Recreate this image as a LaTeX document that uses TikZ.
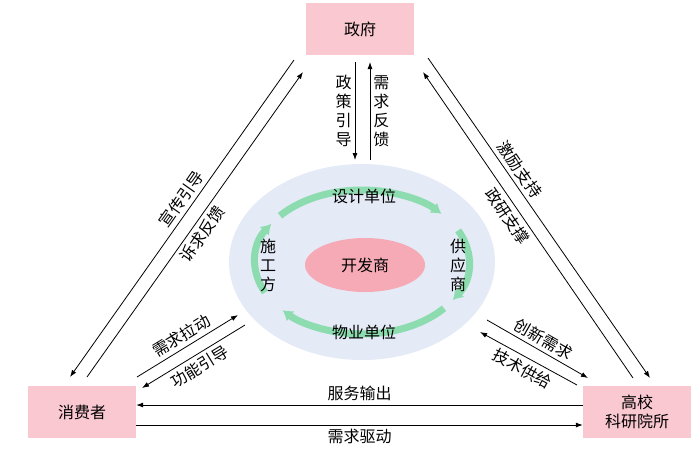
\documentclass[tikz,border=0pt]{standalone}
\usepackage{fontspec}
\setmainfont{Noto Sans CJK SC}
\usetikzlibrary{arrows.meta,shapes.geometric}
\definecolor{boxpink}{RGB}{250,200,208}
\definecolor{corepink}{RGB}{246,170,182}
\definecolor{ringblue}{RGB}{228,234,246}
\definecolor{ringgreen}{RGB}{140,220,175}
\begin{document}
\begin{tikzpicture}
[x=1pt, y=-1pt, font=\fontsize{16}{19}\selectfont,
 actornode/.style={rectangle, fill=boxpink, minimum width=108pt, minimum height=52pt, align=center},
 flowarrow/.style={-{Latex[length=7pt,width=5pt]}, thick},
 cyclearrow/.style={-{Latex[length=10pt,width=13pt]}, line width=7pt, draw=ringgreen},
 linetext/.style={sloped, inner sep=4pt},
 vtext/.style={align=center, inner sep=1pt}]
\useasboundingbox (0,0) rectangle (700,451);
\node[actornode] (gov) at (360,29) {政府};
\node[actornode] (consumer) at (82,412) {消费者};
\node[actornode] (college) at (637,412) {高校\\科研院所};
\fill[ringblue] (362,262) ellipse [x radius=133pt, y radius=98pt];
\node[ellipse, fill=corepink, minimum width=120pt, minimum height=54pt] (dev) at (365,265) {开发商};
% cycle around the developer
\draw[cyclearrow] (362,262) ++(140:107pt and 72pt) arc [start angle=140, end angle=42, x radius=107pt, y radius=72pt];
\draw[cyclearrow] (362,262) ++(26:107pt and 72pt) arc [start angle=26, end angle=-32, x radius=107pt, y radius=72pt];
\draw[cyclearrow] (362,262) ++(-40:107pt and 72pt) arc [start angle=-40, end angle=-138, x radius=107pt, y radius=72pt];
\draw[cyclearrow] (362,262) ++(205:107pt and 72pt) arc [start angle=205, end angle=148, x radius=107pt, y radius=72pt];
\node (design) at (364,196) {设计单位};
\node (property) at (364,332) {物业单位};
\node[vtext] (builder) at (268,265) {施\\工\\方};
\node[vtext] (supplier) at (458,265) {供\\应\\商};
% government and consumer
\coordinate (g1) at (294,60); \coordinate (c1) at (70,377);
\coordinate (c2) at (87,377); \coordinate (g2) at (303,72);
\draw[flowarrow] (g1) -- node[linetext, above, pos=0.46] {宣传引导} (c1);
\draw[flowarrow] (c2) -- node[linetext, below, pos=0.49] {诉求反馈} (g2);
% government and college
\coordinate (g3) at (428,58); \coordinate (k1) at (650,378);
\coordinate (k2) at (633,378); \coordinate (g4) at (423,72);
\draw[flowarrow] (g3) -- node[linetext, above, pos=0.37] {激励支持} (k1);
\draw[flowarrow] (k2) -- node[linetext, below, pos=0.55] {政研支撑} (g4);
% government and developer
\coordinate (g5) at (355,62); \coordinate (d1) at (355,160);
\coordinate (d2) at (370,160); \coordinate (g6) at (370,62);
\draw[flowarrow] (g5) -- node[vtext, left=2pt] {政\\策\\引\\导} (d1);
\draw[flowarrow] (d2) -- node[vtext, right=2pt] {需\\求\\反\\馈} (g6);
% consumer and developer
\coordinate (c3) at (137,377); \coordinate (d3) at (238,315);
\coordinate (d4) at (245,325); \coordinate (c4) at (142,388);
\draw[flowarrow] (c3) -- node[linetext, above] {需求拉动} (d3);
\draw[flowarrow] (d4) -- node[linetext, below] {功能引导} (c4);
% college and developer
\coordinate (d5) at (487,320); \coordinate (k3) at (588,378);
\coordinate (k4) at (577,385); \coordinate (d6) at (480,332);
\draw[flowarrow] (d5) -- node[linetext, above] {创新需求} (k3);
\draw[flowarrow] (k4) -- node[linetext, below] {技术供给} (d6);
% consumer and college
\draw[flowarrow] (college.west |- 0,405) -- node[above] {服务输出} (consumer.east |- 0,405);
\draw[flowarrow] (consumer.east |- 0,425) -- node[below] {需求驱动} (college.west |- 0,425);
\end{tikzpicture}
\end{document}
